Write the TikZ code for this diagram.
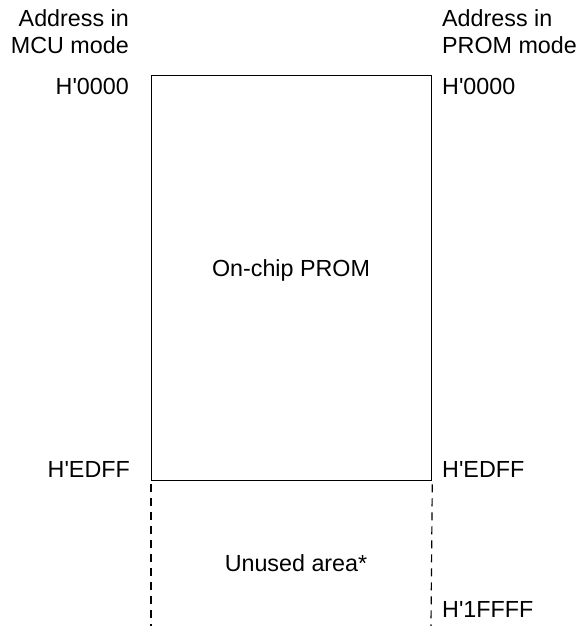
\documentclass[tikz,border=0pt]{standalone}
\usepackage{fontspec}
\setmainfont{Liberation Sans}
\usetikzlibrary{positioning}

\begin{document}
\begin{tikzpicture}[x=1pt,y=-1pt,
    addr/.style={font=\fontsize{23.3}{27.3}\selectfont,inner sep=0pt},
    mcuaddr/.style={addr,anchor=base east,align=right},
    promaddr/.style={addr,anchor=base west,align=left},
    areatext/.style={addr,anchor=base},
    unused/.style={line width=1.2pt,dash pattern=on 8pt off 6pt,dash phase=-3pt}]
  \useasboundingbox (0,0) rectangle (583,626);
  % memory map
  \node[draw,line width=1.3pt,inner sep=0pt,anchor=north west,
        minimum width=280pt,minimum height=405.5pt] (prom) at (151,74.5) {};
  \coordinate (endl) at (151,626);
  \coordinate (endr) at (431,626);
  \draw[unused] (prom.south west) -- (endl);
  \draw[unused] (prom.south east) -- (endr);
  \node[areatext] (promtext) at (291,276) {On-chip PROM};
  \node[areatext] (unusedtext) at (296,571) {Unused area*};
  % MCU mode addresses
  \node[mcuaddr] (mcuhead) at (129,54) {Address in\\MCU mode};
  \node[mcuaddr] (mcutop) at (129,94) {H\textquotesingle 0000};
  \node[mcuaddr] (mcuend) at (130,477) {H\textquotesingle EDFF};
  % PROM mode addresses
  \node[promaddr] (promhead) at (442,54) {Address in\\PROM mode};
  \node[promaddr] (promtop) at (442,94) {H\textquotesingle 0000};
  \node[promaddr] (promend) at (442,477) {H\textquotesingle EDFF};
  \node[promaddr] (promlast) at (442,617) {H\textquotesingle 1FFFF};
\end{tikzpicture}
\end{document}
